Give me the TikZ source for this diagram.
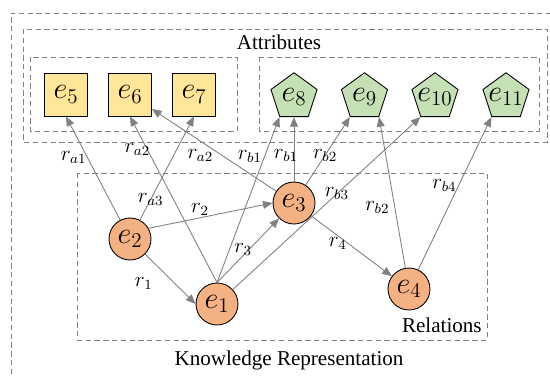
\documentclass[tikz,border=0pt]{standalone}
\usepackage{fontspec}
\setmainfont{Liberation Serif}
\usetikzlibrary{arrows.meta,shapes.geometric}
\definecolor{entorange}{HTML}{F4B183}
\definecolor{attrgold}{HTML}{FFE699}
\definecolor{attrgreen}{HTML}{C5E0B4}
\definecolor{linegray}{HTML}{808080}
\definecolor{dashgray}{HTML}{7F7F7F}

\begin{document}
\begin{tikzpicture}[
  x=0.02cm, y=-0.02cm,
  entity/.style={circle, draw=black, fill=entorange, line width=0.5pt,
    minimum size=0.84cm, inner sep=0pt, font=\LARGE},
  attrsquare/.style={rectangle, draw=black, fill=attrgold, line width=0.5pt,
    minimum size=0.86cm, inner sep=0pt, font=\LARGE},
  attrpentagon/.style={regular polygon, regular polygon sides=5, draw=black,
    fill=attrgreen, line width=0.5pt, minimum size=0.97cm, inner sep=0pt, font=\LARGE},
  relarrow/.style={draw=linegray, line width=0.5pt, -{Triangle[length=5.5pt,width=4.5pt]}},
  rellabel/.style={font=\large, text=black, inner sep=1pt},
  dashbox/.style={draw=dashgray, dash pattern=on 3pt off 2pt, line width=0.5pt},
  titletext/.style={font=\fontsize{12}{14}\selectfont, inner sep=0pt}
]
\useasboundingbox (0,0) rectangle (550,376);
\clip (0,0) rectangle (550,376);

\draw[dashbox] (560,13) -- (11,13) -- (11,390);
\draw[dashbox] (23,29) rectangle (547,142);
\draw[dashbox] (30,57) rectangle (237,131);
\draw[dashbox] (259,57) rectangle (539,131);
\draw[dashbox] (77,173) rectangle (487,340);

\node[titletext] (attrtitle) at (279,42) {Attributes};
\node[titletext, anchor=east] (reltitle) at (482,325) {Relations};
\node[titletext] (kgtitle) at (289,360) {Knowledge Representation};

\node[attrsquare] (e5) at (66,94.5) {$e_5$};
\node[attrsquare] (e6) at (130,94.5) {$e_6$};
\node[attrsquare] (e7) at (194,94.5) {$e_7$};

\node[attrpentagon] (e8) at (294,97) {\makebox[0pt]{$e_8$}};
\node[attrpentagon] (e9) at (364.5,97) {\makebox[0pt]{$e_9$}};
\node[attrpentagon] (e10) at (435,97) {\makebox[0pt]{$e_{10}$}};
\node[attrpentagon] (e11) at (506,97) {\makebox[0pt]{$e_{11}$}};

\node[entity] (e1) at (217,304) {$e_1$};
\node[entity] (e2) at (130,239) {$e_2$};
\node[entity] (e3) at (294,203) {$e_3$};
\node[entity] (e4) at (409,289) {$e_4$};

\draw[relarrow] (e2) -- node[rellabel, pos=0.6, xshift=-0.28cm] {$r_{a1}$} (e5.south);
\draw[relarrow] (e2) -- node[rellabel, pos=0.2] {$r_{a3}$} (e7.south);
\draw[relarrow] (e1.north) -- node[rellabel, pos=0.8, xshift=-0.2cm] {$r_{a2}$} (e6.south);
\draw[relarrow] (e3) -- node[rellabel, pos=0.61, yshift=-0.28cm] {$r_{a2}$} (e6);
\draw[relarrow] (e1.north) -- node[rellabel, pos=0.76, xshift=-0.29cm] {$r_{b1}$} (e8.234);
\draw[relarrow] (e3) -- node[rellabel, pos=0.4, xshift=-0.16cm] {$r_{b1}$} (e8);
\draw[relarrow] (e3) -- node[rellabel, pos=0.44] {$r_{b2}$} (e9.234);
\draw[relarrow] (e1) -- node[rellabel, pos=0.555] {$r_{b3}$} (e10.234);
\draw[relarrow] (e4) -- node[rellabel, pos=0.4, xshift=-0.35cm] {$r_{b2}$} (e9.306);
\draw[relarrow] (e4) -- node[rellabel, pos=0.55, xshift=-0.28cm] {$r_{b4}$} (e11.234);

\draw[relarrow] (e2.30) -- node[rellabel, pos=0.415, yshift=0.16cm] {$r_2$} (e3.west);
\draw[relarrow] (e2.-45) -- node[rellabel, pos=0.35, xshift=-0.38cm, yshift=-0.23cm] {$r_1$} (e1.west);
\draw[relarrow] (e1.north) -- node[rellabel, pos=0.42, yshift=0.12cm] {$r_3$} (e3);
\draw[relarrow] (e3) -- node[rellabel, pos=0.33, yshift=-0.16cm] {$r_4$} (e4);
\end{tikzpicture}
\end{document}
